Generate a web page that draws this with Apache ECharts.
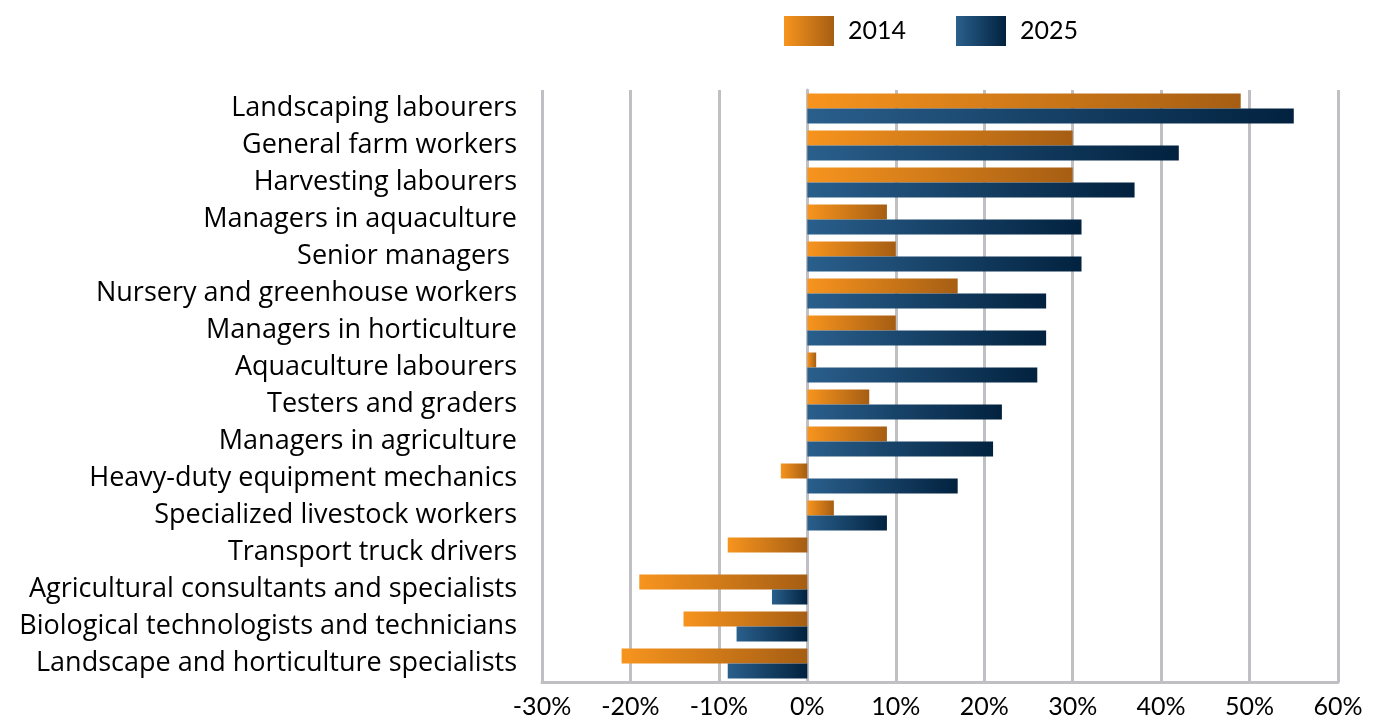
<!DOCTYPE html>
<html>
<head>
<meta charset="utf-8">
<script src="https://cdn.jsdelivr.net/npm/echarts@6/dist/echarts.min.js"></script>
<style>
  html, body { margin: 0; padding: 0; background: #fff; }
  #chart { width: 1379px; height: 724px; }
</style>
</head>
<body>
<div id="chart"></div>
<script>
var categories = [
  'Landscaping labourers',
  'General farm workers',
  'Harvesting labourers',
  'Managers in aquaculture',
  'Senior managers ',
  'Nursery and greenhouse workers',
  'Managers in horticulture',
  'Aquaculture labourers',
  'Testers and graders',
  'Managers in agriculture',
  'Heavy-duty equipment mechanics',
  'Specialized livestock workers',
  'Transport truck drivers',
  'Agricultural consultants and specialists',
  'Biological technologists and technicians',
  'Landscape and horticulture specialists'
];
var values2014 = [49, 30, 30, 9, 10, 17, 10, 1, 7, 9, -3, 3, -9, -19, -14, -21];
var values2025 = [55, 42, 37, 31, 31, 27, 27, 26, 22, 21, 17, 9, 0, -4, -8, -9];
var xTicks = [-30, -20, -10, 0, 10, 20, 30, 40, 50, 60];

var fontFamily = 'Lato, "Open Sans", sans-serif';
var labelFont = '"Open Sans", sans-serif';

function grad(c0, c1) {
  return new echarts.graphic.LinearGradient(0, 0, 1, 0, [
    { offset: 0, color: c0 },
    { offset: 1, color: c1 }
  ]);
}

var myChart = echarts.init(document.getElementById('chart'));

var option = {
  animation: false,
  textStyle: { fontFamily: fontFamily },
  legend: {
    data: ['2014', '2025'],
    left: 779,
    top: 11,
    itemWidth: 50,
    itemHeight: 30,
    itemGap: 50,
    icon: 'rect',
    textStyle: { fontSize: 25, color: '#000', fontFamily: fontFamily, padding: [0, 0, 0, 9] }
  },
  grid: {
    left: 542,
    right: 41,
    top: 90,
    bottom: 42
  },
  xAxis: {
    type: 'value',
    min: -30,
    max: 60,
    interval: 10,
    axisLine: { show: true, onZero: false, lineStyle: { color: '#c0c0c4', width: 3 } },
    axisTick: { show: false },
    splitLine: { show: true, lineStyle: { color: '#c0c0c4', width: 3 } },
    axisLabel: {
      fontSize: 25,
      color: '#000',
      margin: 12,
      formatter: function (v) { return xTicks.indexOf(v) >= 0 ? v + '%' : ''; }
    }
  },
  yAxis: {
    type: 'category',
    inverse: true,
    data: categories,
    axisLine: { show: true, lineStyle: { color: '#c0c0c4', width: 3 } },
    axisTick: { show: false },
    axisLabel: {
      fontSize: 27,
      color: '#000',
      margin: 25,
      fontFamily: labelFont,
      padding: [0, 0, 6, 0]
    }
  },
  series: [
    {
      name: '2014',
      type: 'bar',
      data: values2014,
      barWidth: 15,
      barGap: '0%',
      itemStyle: { color: grad('#f7941e', '#a65e13') }
    },
    {
      name: '2025',
      type: 'bar',
      data: values2025,
      barWidth: 15,
      barGap: '0%',
      itemStyle: { color: grad('#2a5f8c', '#02223f') }
    }
  ]
};

myChart.setOption(option);
</script>
</body>
</html>
